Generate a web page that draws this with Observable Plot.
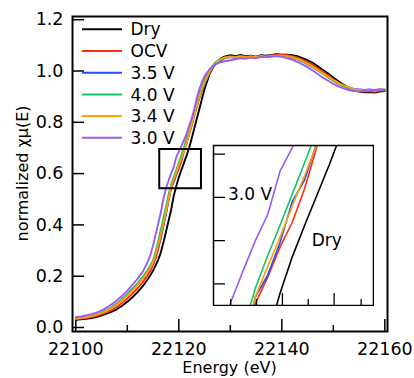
<!DOCTYPE html>
<html>
<head>
<meta charset="utf-8">
<script src="https://cdn.jsdelivr.net/npm/d3@7"></script>
<script src="https://cdn.jsdelivr.net/npm/@observablehq/plot@0.6"></script>
<style>
  html, body { margin: 0; padding: 0; background: #fff; }
  #wrap { position: relative; width: 414px; height: 378px; overflow: hidden; font-family: "DejaVu Sans", sans-serif; }
  #wrap > svg { position: absolute; }
</style>
</head>
<body>
<div id="wrap"></div>
<script>
// ---------- data ----------
const energy = [
  22100,22101,22102,22103,22104,22105,22106,22107,22108,22109,22110,22111,22112,22113,22114,
  22114.5,22115,22115.5,22116,22116.5,22117,22117.5,22118,22118.5,22119,22119.5,22120,22120.5,22121,22121.5,22122,22122.5,22123,22123.5,22124,22124.5,
  22125,22126,22127,22128,22129,
  22130,22131,22132,22133,22134,22135,22136,22137,22138,22139,22140,22141,22142,22143,22144,22145,
  22146,22147,22148,22149,22150,22151,22152,22153,22154,22155,22156,22157,22158,22159,22160
];
const dry = [
  0.030,0.032,0.034,0.037,0.041,0.047,0.054,0.062,0.072,0.085,0.100,0.118,0.138,0.161,0.189,
  0.205,0.222,0.242,0.264,0.292,0.330,0.372,0.415,0.458,0.512,0.551,0.585,0.614,0.642,0.670,0.700,0.737,0.776,0.815,0.853,0.892,
  0.930,0.990,1.026,1.047,1.057,
  1.062,1.058,1.063,1.058,1.060,1.056,1.062,1.060,1.063,1.066,1.064,1.064,1.062,1.058,1.050,1.042,
  1.032,1.018,1.004,0.990,0.975,0.960,0.946,0.935,0.926,0.920,0.917,0.918,0.916,0.920,0.922
];
const ocv = [
  0.033,0.035,0.037,0.041,0.045,0.051,0.059,0.069,0.081,0.096,0.113,0.132,0.153,0.177,0.206,
  0.222,0.243,0.268,0.305,0.348,0.395,0.445,0.495,0.542,0.566,0.594,0.617,0.648,0.687,0.718,0.752,0.788,0.826,0.862,0.896,0.926,
  0.952,0.996,1.026,1.044,1.054,
  1.058,1.055,1.060,1.056,1.058,1.054,1.059,1.057,1.061,1.062,1.063,1.062,1.058,1.052,1.044,1.035,
  1.024,1.011,0.997,0.983,0.968,0.954,0.942,0.932,0.925,0.922,0.920,0.922,0.919,0.924,0.925
];
const v35 = [
  0.036,0.038,0.041,0.045,0.050,0.057,0.067,0.079,0.093,0.110,0.130,0.150,0.170,0.193,0.220,
  0.236,0.255,0.282,0.316,0.355,0.398,0.442,0.496,0.548,0.568,0.598,0.636,0.656,0.691,0.722,0.756,0.792,0.829,0.864,0.896,0.925,
  0.950,0.995,1.024,1.040,1.050,
  1.054,1.050,1.055,1.052,1.056,1.053,1.057,1.055,1.058,1.060,1.058,1.057,1.052,1.045,1.037,1.027,
  1.015,1.002,0.989,0.976,0.963,0.952,0.943,0.936,0.930,0.928,0.926,0.928,0.925,0.928,0.927
];
const v40 = [
  0.036,0.039,0.042,0.046,0.051,0.058,0.068,0.080,0.094,0.111,0.130,0.150,0.172,0.197,0.226,
  0.243,0.262,0.296,0.336,0.380,0.424,0.468,0.518,0.556,0.586,0.614,0.643,0.672,0.702,0.735,0.770,0.806,0.842,0.878,0.912,0.940,
  0.965,1.005,1.032,1.046,1.052,
  1.055,1.052,1.056,1.053,1.057,1.055,1.058,1.054,1.060,1.058,1.060,1.058,1.053,1.046,1.038,1.028,
  1.016,1.003,0.990,0.976,0.962,0.950,0.940,0.932,0.926,0.924,0.922,0.925,0.923,0.926,0.924
];
const v34 = [
  0.035,0.037,0.040,0.044,0.049,0.056,0.065,0.076,0.090,0.106,0.124,0.144,0.166,0.190,0.218,
  0.234,0.254,0.285,0.322,0.362,0.405,0.450,0.500,0.548,0.576,0.603,0.632,0.660,0.689,0.720,0.755,0.792,0.830,0.866,0.900,0.930,
  0.955,0.998,1.028,1.044,1.052,
  1.056,1.053,1.057,1.054,1.056,1.055,1.058,1.056,1.059,1.061,1.059,1.058,1.054,1.047,1.039,1.029,
  1.017,1.004,0.991,0.978,0.965,0.953,0.944,0.936,0.929,0.926,0.924,0.926,0.923,0.927,0.928
];
const v30 = [
  0.040,0.043,0.047,0.052,0.058,0.066,0.078,0.091,0.106,0.124,0.144,0.166,0.190,0.217,0.258,
  0.284,0.320,0.362,0.405,0.448,0.500,0.543,0.572,0.600,0.624,0.664,0.686,0.708,0.730,0.755,0.785,0.815,0.852,0.895,0.930,0.958,
  0.980,1.008,1.025,1.034,1.038,
  1.042,1.046,1.050,1.048,1.052,1.050,1.055,1.054,1.056,1.058,1.055,1.050,1.044,1.036,1.026,1.015,
  1.002,0.988,0.974,0.962,0.950,0.940,0.932,0.926,0.922,0.920,0.922,0.924,0.926,0.928,0.926
];
const seriesNames  = ["Dry", "OCV", "3.5 V", "4.0 V", "3.4 V", "3.0 V"];
const seriesValues = [dry, ocv, v35, v40, v34, v30];
const seriesColors = ["#000000", "#ff2a10", "#1f4fff", "#14c46a", "#ffa000", "#9a5cf0"];

const xMajorTicks = [22100, 22120, 22140, 22160];
const xMinorTicks = [22110, 22130, 22150];
const yTicks = [0.0, 0.2, 0.4, 0.6, 0.8, 1.0, 1.2];
const xLabel = "Energy (eV)";
const yLabel = "normalized χμ(E)";

// zoom box shown on the main chart, and the inset's own ranges
const zoomBox = [{x1: 22116.3, x2: 22124.4, y1: 0.541, y2: 0.694}];
const insetXDomain = [22116.8, 22123.3];
const insetYDomain = [0.540, 0.688];
const insetXMajor = [22119.6, 22121.7];
const insetXMinor = [22117.5, 22118.55, 22120.65, 22122.8];
const insetYTicks = [0.56, 0.60, 0.64, 0.68];
const insetLabels = [
  {text: "3.0 V", x: 22117.39, y: 0.643},
  {text: "Dry",   x: 22120.79, y: 0.600}
];

// ---------- build ----------
const rows = seriesNames.flatMap((name, k) =>
  energy.map((e, i) => ({E: e, mu: seriesValues[k][i], name})));

const W = 414, H = 378, ML = 72, MR = 27, MT = 16, MB = 47;
const plotW = W - ML - MR, plotH = H - MT - MB;
const font = '"DejaVu Sans", sans-serif';

const main = Plot.plot({
  width: W, height: H,
  marginLeft: ML, marginRight: MR, marginTop: MT, marginBottom: MB,
  style: {fontFamily: font, fontSize: "17.5px", color: "black", background: "white"},
  x: {domain: [22099.36, 22160.52]},
  y: {domain: [-0.0156, 1.2125]},
  color: {domain: seriesNames, range: seriesColors},
  marks: [
    Plot.axisX({ticks: xMajorTicks, tickFormat: "d", tickSize: 0, tickPadding: 11, label: null}),
    Plot.axisY({ticks: yTicks, tickFormat: ".1f", tickSize: 0, tickPadding: 9, label: null}),
    Plot.tickX(xMajorTicks, {x: d => d, insetTop: plotH - 12, stroke: "black", strokeWidth: 1.5}),
    Plot.tickX(xMinorTicks, {x: d => d, insetTop: plotH - 6, stroke: "black", strokeWidth: 1.5}),
    Plot.tickY(yTicks, {y: d => d, insetRight: plotW - 12, stroke: "black", strokeWidth: 1.5}),
    Plot.line(rows, {x: "E", y: "mu", z: "name", stroke: "name", strokeWidth: 1.9}),
    Plot.rect(zoomBox, {x1: "x1", x2: "x2", y1: "y1", y2: "y2", fill: "none", stroke: "black", strokeWidth: 2}),
    Plot.frame({stroke: "black", strokeWidth: 2})
  ]
});
main.style.left = "0px"; main.style.top = "0px";

const IW = 162, IH = 162;
const inset = Plot.plot({
  width: IW, height: IH, margin: 1,
  style: {fontFamily: font, fontSize: "17px", color: "black", background: "white"},
  x: {domain: insetXDomain, axis: null},
  y: {domain: insetYDomain, axis: null},
  color: {domain: seriesNames, range: seriesColors},
  marks: [
    Plot.line(rows, {x: "E", y: "mu", z: "name", stroke: "name", strokeWidth: 1.6, clip: true}),
    Plot.tickX(insetXMajor, {x: d => d, insetTop: IH - 2 - 12, stroke: "black", strokeWidth: 1.3}),
    Plot.tickX(insetXMinor, {x: d => d, insetTop: IH - 2 - 6, stroke: "black", strokeWidth: 1.3}),
    Plot.tickY(insetYTicks, {y: d => d, insetRight: IW - 2 - 12, stroke: "black", strokeWidth: 1.3}),
    Plot.text(insetLabels, {x: "x", y: "y", text: "text", textAnchor: "start", fill: "black"}),
    Plot.frame({stroke: "black", strokeWidth: 1.5})
  ]
});
inset.style.left = "212px"; inset.style.top = "144px";

const wrap = document.getElementById("wrap");
wrap.appendChild(main);
wrap.appendChild(inset);

// overlay: legend and axis titles
const ov = d3.select(wrap).append("svg")
  .attr("width", W).attr("height", H)
  .style("left", "0px").style("top", "0px")
  .style("pointer-events", "none")
  .style("font-family", font);

const leg = ov.append("g");
seriesNames.forEach((name, i) => {
  const cy = 29.3 + i * 21.7;
  leg.append("line").attr("x1", 82).attr("x2", 122).attr("y1", cy).attr("y2", cy)
    .attr("stroke", seriesColors[i]).attr("stroke-width", 2);
  leg.append("text").attr("x", 130.5).attr("y", cy).attr("dy", "0.36em")
    .attr("font-size", 17).attr("fill", "black").text(name);
});

ov.append("text").attr("x", ML + plotW / 2).attr("y", 373)
  .attr("text-anchor", "middle").attr("font-size", 16).attr("fill", "black").text(xLabel);
ov.append("text").attr("transform", `translate(22,${MT + plotH / 2}) rotate(-90)`)
  .attr("text-anchor", "middle").attr("dy", "0.35em").attr("font-size", 16).attr("fill", "black").text(yLabel);
</script>
</body>
</html>
